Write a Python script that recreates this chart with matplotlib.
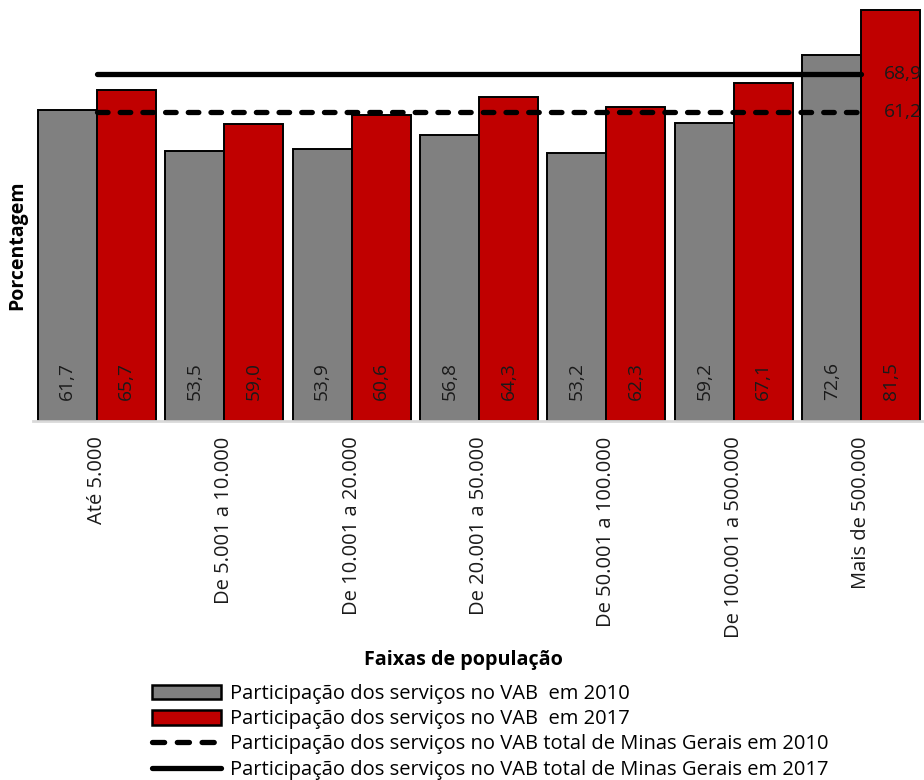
import matplotlib
matplotlib.use("Agg")
import matplotlib.pyplot as plt
from matplotlib.patches import Patch
from matplotlib.lines import Line2D
import numpy as np

plt.rcParams['font.family'] = ['Open Sans', 'DejaVu Sans']

categories = ["Até 5.000", "De 5.001 a 10.000", "De 10.001 a 20.000",
              "De 20.001 a 50.000", "De 50.001 a 100.000",
              "De 100.001 a 500.000", "Mais de 500.000"]
vab_2010 = [61.7, 53.5, 53.9, 56.8, 53.2, 59.2, 72.6]
vab_2017 = [65.7, 59.0, 60.6, 64.3, 62.3, 67.1, 81.5]
mg_2010 = 61.2
mg_2017 = 68.9

series_labels = ["Participação dos serviços no VAB  em 2010",
                 "Participação dos serviços no VAB  em 2017",
                 "Participação dos serviços no VAB total de Minas Gerais em 2010",
                 "Participação dos serviços no VAB total de Minas Gerais em 2017"]

GRAY = "#808080"
RED = "#C00000"

W, H = 924, 780
fig = plt.figure(figsize=(W / 100, H / 100), dpi=100)
ax = fig.add_axes([33 / W, (H - 421) / H, 892 / W, 421 / H])

x = np.arange(len(categories))
bw = 0.463
ax.bar(x - bw / 2, vab_2010, width=bw, color=GRAY, edgecolor="black", linewidth=1.4, zorder=2)
ax.bar(x + bw / 2, vab_2017, width=bw, color=RED, edgecolor="black", linewidth=1.4, zorder=2)

fs_val = 13.8
fs = 14.5
for xi, v in zip(x, vab_2010):
    ax.text(xi - bw / 2, 8, f"{v:.1f}".replace(".", ","), rotation=90,
            ha="center", va="center", fontsize=fs_val, color="#1a1a1a", zorder=3)
for xi, v in zip(x, vab_2017):
    ax.text(xi + bw / 2, 8, f"{v:.1f}".replace(".", ","), rotation=90,
            ha="center", va="center", fontsize=fs_val, color="#1a1a1a", zorder=3)

ax.plot([x[0], x[-1]], [mg_2017, mg_2017], color="black", lw=3.8,
        solid_capstyle="round", zorder=4)
ax.plot([x[0], x[-1]], [mg_2010, mg_2010], color="black", lw=3.8,
        dashes=(2.0, 2.3), dash_capstyle="round", zorder=4)
ax.text(x[-1] + 0.18, mg_2017, f"{mg_2017:.1f}".replace(".", ","), ha="left",
        va="center", fontsize=fs_val, color="#1a1a1a")
ax.text(x[-1] + 0.18, mg_2010, f"{mg_2010:.1f}".replace(".", ","), ha="left",
        va="center", fontsize=fs_val, color="#1a1a1a")

ax.set_xlim(-0.5, 6.5)
ax.set_ylim(0, 83.5)
for s in ["top", "right", "left"]:
    ax.spines[s].set_visible(False)
ax.spines["bottom"].set_color("#d9d9d9")
ax.spines["bottom"].set_linewidth(2)
ax.set_yticks([])
ax.set_xticks(x)
ax.set_xticklabels(categories, rotation=90, fontsize=fs, color="#1a1a1a")
ax.tick_params(axis="x", length=0, pad=11)

fig.text(463 / W, 1 - 660 / H, "Faixas de população", ha="center", va="center",
         fontsize=14.2, fontweight="bold")
fig.text(17 / W, 1 - 245 / H, "Porcentagem", ha="center", va="center",
         rotation=90, fontsize=14, fontweight="bold")

handles = [Patch(facecolor=GRAY, edgecolor="black", linewidth=1.8),
           Patch(facecolor=RED, edgecolor="black", linewidth=1.8),
           Line2D([], [], color="black", lw=3.8, dashes=(2.3, 2.4), dash_capstyle="round"),
           Line2D([], [], color="black", lw=3.8, solid_capstyle="round")]
fig.legend(handles, series_labels, loc="upper left",
           bbox_to_anchor=(152 / W, 1 - 684 / H), frameon=False, fontsize=fs,
           handlelength=3.45, handleheight=0.75, handletextpad=0.4,
           labelspacing=0.26, borderpad=0, borderaxespad=0)

fig.savefig("out.png", dpi=100)
